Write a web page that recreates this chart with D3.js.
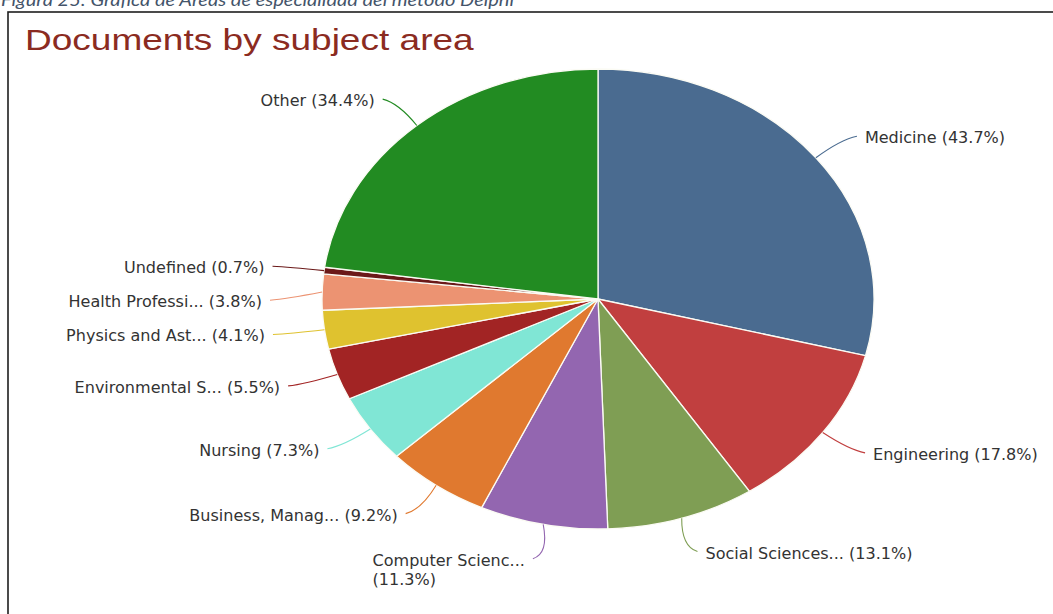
<!DOCTYPE html>
<html>
<head>
<meta charset="utf-8">
<script src="https://cdn.jsdelivr.net/npm/d3@7"></script>
<style>
  html, body { margin: 0; padding: 0; background: #fff; }
  svg { display: block; }
</style>
</head>
<body>
<svg id="chart" width="1053" height="614"></svg>
<script>
// Subject areas, clockwise from 12 o'clock
const subjects = ["Medicine", "Engineering", "Social Sciences...", "Computer Scienc...",
  "Business, Manag...", "Nursing", "Environmental S...", "Physics and Ast...",
  "Health Professi...", "Undefined", "Other"];
// Share of documents per subject area (%)
const shares = [43.7, 17.8, 13.1, 11.3, 9.2, 7.3, 5.5, 4.1, 3.8, 0.7, 34.4];
const sliceColors = ["#4a6b90", "#c13f3f", "#7f9e54", "#9366b0", "#e0792f", "#80e6d5",
  "#a22424", "#dfc22f", "#ec9372", "#6b1919", "#228b22"];
// Labels that break the percentage onto a second line
const wrappedLabels = ["Computer Scienc..."];

const data = subjects.map((name, i) => ({ name, value: shares[i], color: sliceColors[i] }));

const svg = d3.select("#chart");
const cx = 598, cy = 299, r = 230, sx = 1.2;   // pie drawn slightly wide
const labelRx = 328, labelRy = 265;              // ring the label connectors end on
const minGap = 34;                               // vertical spacing between labels on one side

// Caption line above the chart frame
svg.append("text")
  .attr("x", 1).attr("y", 6)
  .attr("textLength", 513).attr("lengthAdjust", "spacingAndGlyphs")
  .style("font-family", "Lato, 'Open Sans', sans-serif")
  .style("font-style", "italic")
  .style("font-size", "18px")
  .style("fill", "#44546a")
  .text("Figura 25: Gráfica de Áreas de especialidad del método Delphi");

// Chart frame
svg.append("rect")
  .attr("x", 8).attr("y", 12).attr("width", 1200).attr("height", 800)
  .attr("fill", "#fff").attr("stroke", "#1e1e1e").attr("stroke-width", 1.6);

// Title
svg.append("g")
  .attr("transform", "translate(25,50) scale(1.235,1)")
  .append("text")
  .style("font-family", "'Liberation Sans', Arial, sans-serif")
  .style("font-size", "30px")
  .style("fill", "#8b2b21")
  .text("Documents by subject area");

const pie = d3.pie().sort(null).value(d => d.value);
const arcs = pie(data);
const arc = d3.arc().innerRadius(0).outerRadius(r);

svg.append("g")
  .attr("transform", `translate(${cx},${cy}) scale(${sx},1)`)
  .selectAll("path")
  .data(arcs)
  .join("path")
  .attr("d", arc)
  .attr("fill", d => d.data.color)
  .attr("stroke", "#fbfbf4")
  .attr("stroke-width", 1.3)
  .attr("vector-effect", "non-scaling-stroke");

// Label layout: ideal spot on the label ring, then push overlapping ones downward
const layout = arcs.map(d => {
  const mid = (d.startAngle + d.endAngle) / 2;
  return {
    d, mid,
    right: Math.sin(mid) >= 0,
    y: cy - labelRy * Math.cos(mid)
  };
});
[true, false].forEach(side => {
  const group = layout.filter(l => l.right === side).sort((a, b) => a.y - b.y);
  for (let i = 1; i < group.length; i++) {
    group[i].y = Math.max(group[i].y, group[i - 1].y + minGap);
  }
});
layout.forEach(l => {
  const dy = Math.max(-labelRy, Math.min(labelRy, l.y - cy));
  const dx = labelRx * Math.sqrt(1 - (dy * dy) / (labelRy * labelRy));
  l.x = cx + (l.right ? dx : -dx);
});

const labels = svg.append("g");
layout.forEach(l => {
  const d = l.d;
  const s = l.right ? 1 : -1;
  const x0 = cx + sx * r * Math.sin(l.mid);
  const y0 = cy - r * Math.cos(l.mid);
  const x1 = l.x, y1 = l.y;
  const ctrl = [x1 - s * 16, y1 + (y0 - y1) * 0.15];

  labels.append("path")
    .attr("d", `M${x0},${y0} Q${ctrl[0]},${ctrl[1]} ${x1},${y1}`)
    .attr("fill", "none")
    .attr("stroke", d.data.color)
    .attr("stroke-width", 1.1);

  const pctText = `(${d.data.value.toFixed(1)}%)`;
  const g = labels.append("g")
    .attr("transform", `translate(${x1 + s * 8},${y1 + 7}) scale(1.07,1)`);
  const t = g.append("text")
    .style("font-family", "'DejaVu Sans', Verdana, sans-serif")
    .style("font-size", "15px")
    .style("fill", "#333");

  if (wrappedLabels.includes(d.data.name)) {
    t.append("tspan").attr("x", 0).text(d.data.name);
    t.append("tspan").attr("x", 0).attr("dy", 19).text(pctText);
    const w = t.select("tspan").node().getComputedTextLength();
    t.attr("text-anchor", "start");
    if (!l.right) t.attr("transform", `translate(${-w},0)`);
  } else {
    t.attr("text-anchor", l.right ? "start" : "end")
      .text(`${d.data.name} ${pctText}`);
  }
});
</script>
</body>
</html>
